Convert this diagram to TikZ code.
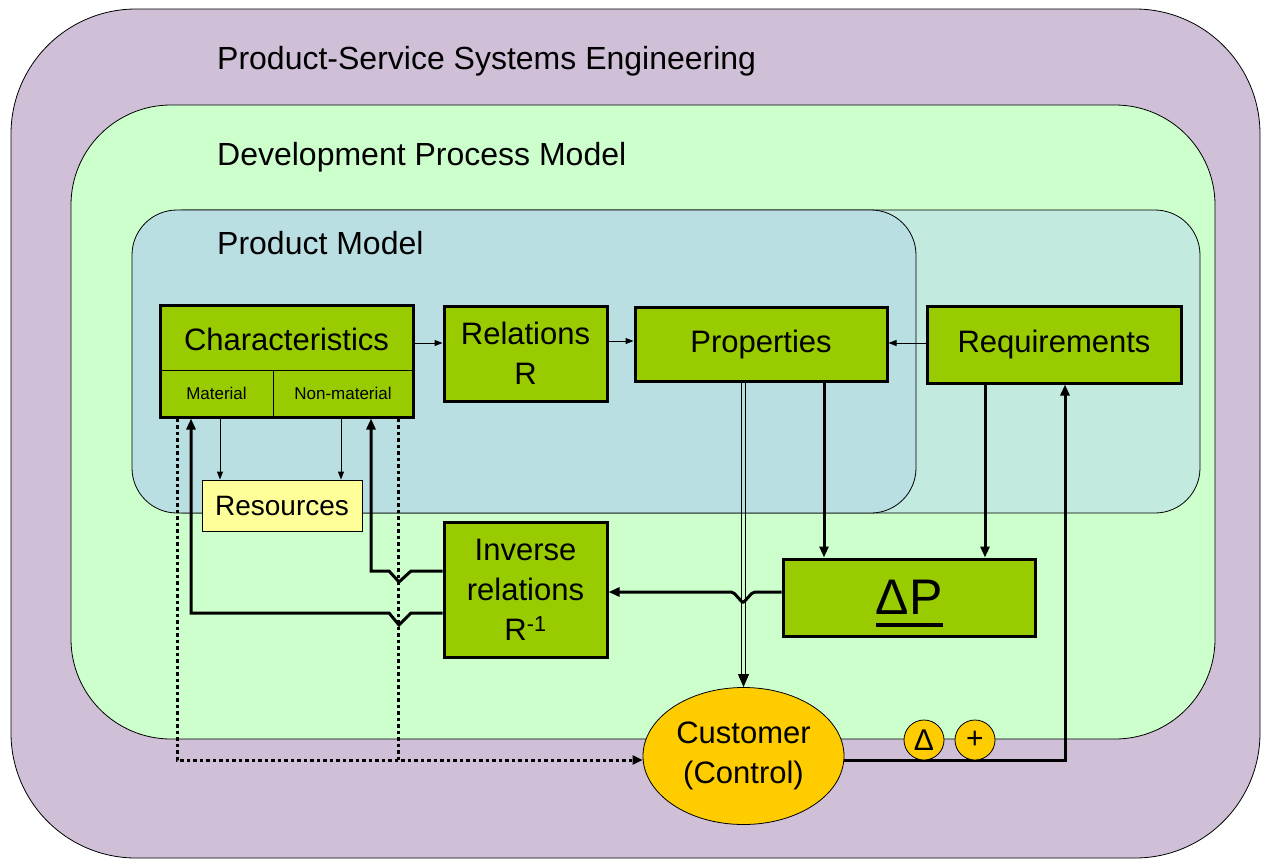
\documentclass[tikz,border=0pt]{standalone}
\usepackage{fontspec}
\setmainfont{Liberation Sans}
\usetikzlibrary{arrows.meta,shapes.geometric}
\definecolor{purp}{RGB}{207,191,215}
\definecolor{lgreen}{RGB}{204,255,204}
\definecolor{bluep}{RGB}{186,223,227}
\definecolor{reqp}{RGB}{194,234,222}
\definecolor{boxgreen}{RGB}{153,204,0}
\definecolor{resy}{RGB}{255,255,153}
\definecolor{custy}{RGB}{255,204,0}
\newcommand\fbig{\fontsize{31}{40}\selectfont}
\newcommand\ftitle{\fontsize{32}{40}\selectfont}
\newcommand\fsmall{\fontsize{17}{20}\selectfont}
\tikzset{
  panel/.style={draw, line width=0.8pt},
  gbox/.style={draw, line width=3pt, fill=boxgreen, inner sep=0pt, align=center, font=\fbig},
  subbox/.style={draw, line width=1pt, fill=boxgreen, inner sep=0pt, align=center},
  title/.style={anchor=west, font=\ftitle, inner sep=0pt},
  thinarr/.style={line width=1pt, -{Triangle[length=8pt,width=6pt]}},
  thickarr/.style={line width=3pt, -{Triangle[length=11pt,width=9pt]}},
  dotarr/.style={line width=3pt, dash pattern=on 3.5pt off 3pt, -{Triangle[length=10pt,width=9pt]}},
  dotline/.style={line width=3pt, dash pattern=on 3.5pt off 3pt},
  rnd/.style={draw, circle, line width=0.8pt, fill=custy, minimum size=40pt, inner sep=0pt, font=\fontsize{30}{32}\selectfont}
}
\begin{document}
\begin{tikzpicture}[x=1pt,y=-1pt]
\useasboundingbox (0,0) rectangle (1262,860);
% panels
\draw[panel, fill=purp, rounded corners=125pt] (11,9) rectangle (1260,858);
\draw[panel, fill=lgreen, rounded corners=100pt] (71,105) rectangle (1215,739);
\draw[panel, fill=reqp, rounded corners=45pt] (140,210) rectangle (1200,513);
\draw[panel, fill=bluep, rounded corners=45pt] (132,210) rectangle (916,513);
\node[title] (t1) at (217,61) {Product-Service Systems Engineering};
\node[title] (t2) at (217,157) {Development Process Model};
\node[title] (t3) at (217,243) {Product Model};
% helper coordinates
\coordinate (y341) at (0,341);
\coordinate (y343) at (0,343);
\coordinate (y571) at (0,571);
\coordinate (y592) at (0,592);
\coordinate (y613) at (0,613);
\coordinate (y760) at (0,760);
\coordinate (x177) at (177,0);
\coordinate (x191) at (191,0);
\coordinate (x220) at (220,0);
\coordinate (x341) at (341,0);
\coordinate (x371) at (371,0);
\coordinate (x398) at (398,0);
\coordinate (x824) at (824,0);
\coordinate (x985) at (985,0);
\coordinate (x1065) at (1065,0);
% boxes
\node[subbox, minimum width=253pt, minimum height=65pt, font=\fbig] (chartop) at (286.5,339) {Characteristics};
\node[subbox, minimum width=113pt, minimum height=47pt, font=\fsmall] (mat) at (216.5,393.5) {Material};
\node[subbox, minimum width=140pt, minimum height=47pt, font=\fsmall] (nonmat) at (343,393.5) {Non-material};
\node[draw, line width=3pt, minimum width=253pt, minimum height=112pt, inner sep=0pt] (char) at (286.5,361) {};
\node[gbox, minimum width=163pt, minimum height=95pt] (rel) at (525.5,353.5) {Relations\\R};
\node[gbox, minimum width=252pt, minimum height=74pt] (prop) at (761,344.5) {Properties};
\node[gbox, minimum width=254pt, minimum height=77pt] (req) at (1054,344.5) {Requirements};
\node[draw, line width=1pt, fill=resy, minimum width=160pt, minimum height=51pt, inner sep=0pt, font=\fontsize{28}{32}\selectfont] (res) at (282,505.5) {Resources};
\node[gbox, minimum width=163pt, minimum height=135pt] (inv) at (525.5,590) {Inverse\\relations\\R\textsuperscript{-1}};
\node[gbox, minimum width=252pt, minimum height=77pt, font=\fontsize{50}{56}\selectfont] (dp) at (909,597.5) {ΔP};
\draw[line width=3.5pt] (876,625) -- (943,625);
\node[draw, ellipse, line width=0.8pt, fill=custy, minimum width=201pt, minimum height=137pt, inner sep=0pt, align=center, font=\fbig] (cust) at (743.5,756) {Customer\\(Control)};
% thin connectors
\draw[thinarr] (char.east |- y343) -- (rel.west |- y343);
\draw[thinarr] (rel.east |- y341) -- (prop.west |- y341);
\draw[thinarr] (req.west |- y343) -- (prop.east |- y343);
\draw[thinarr] (char.south -| x220) -- (res.north -| x220);
\draw[thinarr] (char.south -| x341) -- (res.north -| x341);
% thick connectors
\draw[thickarr] (prop.south -| x824) -- (dp.north -| x824);
\draw[thickarr] (req.south -| x985) -- (dp.north -| x985);
% double line to customer
\coordinate (pd) at (prop.south -| cust.north);
\draw[line width=0.9pt] ([xshift=-2.2pt]pd) -- ([xshift=-2.2pt,yshift=10pt]cust.north);
\draw[line width=0.9pt] ([xshift=2.2pt]pd) -- ([xshift=2.2pt,yshift=10pt]cust.north);
\draw[line width=1pt, -{Triangle[length=13pt,width=11pt]}] ([yshift=12pt]cust.north) -- (cust.north);
% delta P to inverse relations with hop
\draw[thickarr, rounded corners=2pt] (dp.west |- y592) -- (753,592) -- (743,603) -- (733,592) -- (inv.east |- y592);
% inverse relations to characteristics, with hops
\draw[thickarr] (inv.west |- y571) -- (411,571) -- (399,582) -- (389,571) -- (x371 |- y571) -- (char.south -| x371);
\draw[thickarr] (inv.west |- y613) -- (411,613) -- (399,625) -- (389,613) -- (x191 |- y613) -- (char.south -| x191);
% dotted lines to customer
\draw[dotarr] (char.south -| x177) -- (x177 |- y760) -- (cust.west |- y760);
\draw[dotline] (char.south -| x398) -- (x398 |- y760);
% customer to requirements
\draw[thickarr] (cust.east |- y760) -- (x1065 |- y760) -- (req.south -| x1065);
\node[rnd] (d1) at (924,740) {Δ};
\node[rnd] (d2) at (975,740) {+};
\end{tikzpicture}
\end{document}
